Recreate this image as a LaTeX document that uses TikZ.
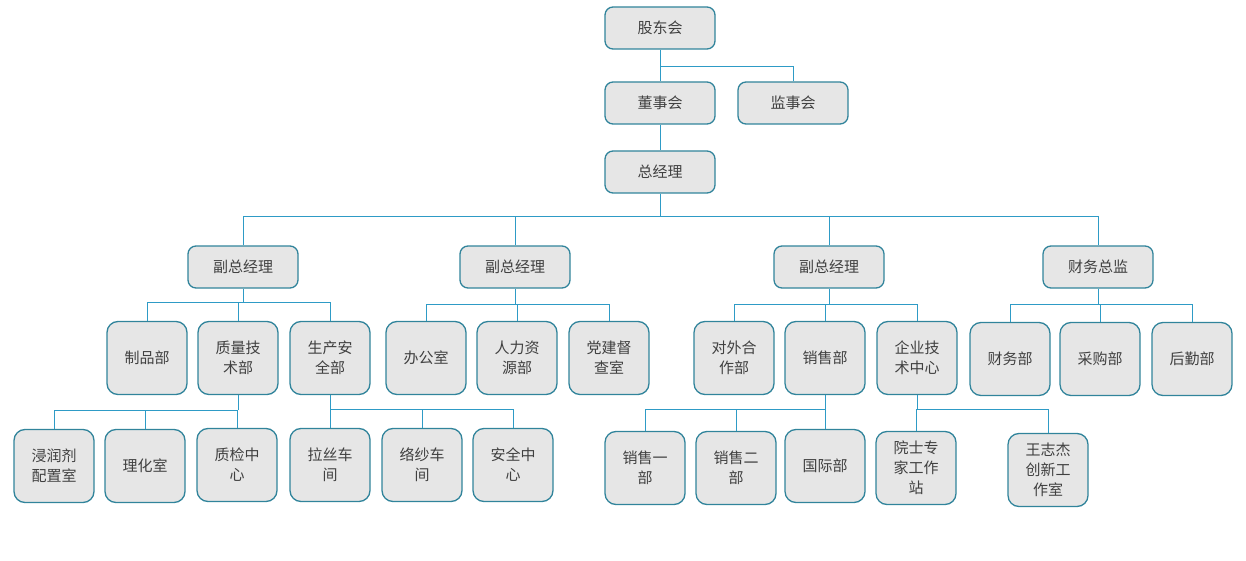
\documentclass[tikz,border=0pt]{standalone}
\usepackage{fontspec}
\newfontfamily\cjk{Noto Sans CJK SC}
\definecolor{boxfill}{HTML}{E6E6E6}
\definecolor{boxline}{HTML}{31849B}
\definecolor{linkline}{HTML}{2E9BC6}
\definecolor{txtgray}{HTML}{404040}
\tikzset{
  orgbox/.style={draw=boxline, fill=boxfill, line width=1.3pt, text=txtgray,
    font=\cjk\fontsize{15}{20}\selectfont, align=center, inner sep=0pt},
  headbox/.style={orgbox, rounded corners=8pt, minimum width=110pt, minimum height=42pt},
  deptbox/.style={orgbox, rounded corners=11pt, minimum width=80pt, minimum height=73pt},
  link/.style={draw=linkline, line width=1pt},
}
\begin{document}
\begin{tikzpicture}[x=1pt,y=-1pt]
  \useasboundingbox (0,0) rectangle (1246,561);

  % top levels
  \node[headbox] (gdh) at (660,28) {股东会};
  \node[headbox] (dsh) at (660,103) {董事会};
  \node[headbox] (jsh) at (793,103) {监事会};
  \node[headbox] (zjl) at (660,172) {总经理};

  % deputies
  \node[headbox] (fz1) at (243,267) {副总经理};
  \node[headbox] (fz2) at (515,267) {副总经理};
  \node[headbox] (fz3) at (829,267) {副总经理};
  \node[headbox] (cwzj) at (1098,267) {财务总监};

  % departments
  \node[deptbox] (zpb) at (147,358) {制品部};
  \node[deptbox] (zljs) at (238,358) {质量技\\术部};
  \node[deptbox] (scaq) at (330,358) {生产安\\全部};
  \node[deptbox] (bgs) at (426,358) {办公室};
  \node[deptbox] (rlzy) at (517,358) {人力资\\源部};
  \node[deptbox] (djdc) at (609,358) {党建督\\查室};
  \node[deptbox] (dwhz) at (734,358) {对外合\\作部};
  \node[deptbox] (xsb) at (825,358) {销售部};
  \node[deptbox] (qyjs) at (917,358) {企业技\\术中心};
  \node[deptbox] (cwb) at (1010,359) {财务部};
  \node[deptbox] (cgb) at (1100,359) {采购部};
  \node[deptbox] (hqb) at (1192,359) {后勤部};

  % sub units
  \node[deptbox] (jrj) at (54,466) {浸润剂\\配置室};
  \node[deptbox] (lhs) at (145,466) {理化室};
  \node[deptbox] (zjzx) at (237,465) {质检中\\心};
  \node[deptbox] (lscj) at (330,465) {拉丝车\\间};
  \node[deptbox] (lscj2) at (422,465) {络纱车\\间};
  \node[deptbox] (aqzx) at (513,465) {安全中\\心};
  \node[deptbox] (xs1) at (645,468) {销售一\\部};
  \node[deptbox] (xs2) at (736,468) {销售二\\部};
  \node[deptbox] (gjb) at (825,466) {国际部};
  \node[deptbox] (yszj) at (916,468) {院士专\\家工作\\站};
  \node[deptbox] (wzj) at (1048,470) {王志杰\\创新工\\作室};

  % connectors
  \coordinate (b1) at (660,67);
  \draw[link] (gdh) -- (dsh);
  \draw[link] (jsh.north) |- (b1);
  \draw[link] (dsh) -- (zjl);

  \coordinate (b2) at (660,217);
  \draw[link] (zjl.south) -- (b2);
  \foreach \n in {fz1,fz2,fz3,cwzj}
    \draw[link] (\n.north) |- (b2);

  \path (fz1.south) ++(0,14) coordinate (b3a);
  \path (fz2.south) ++(0,16) coordinate (b3b);
  \path (fz3.south) ++(0,16) coordinate (b3c);
  \path (cwzj.south) ++(0,16) coordinate (b3d);
  \draw[link] (fz1.south) -- (b3a);
  \draw[link] (fz2.south) -- (b3b);
  \draw[link] (fz3.south) -- (b3c);
  \draw[link] (cwzj.south) -- (b3d);
  \foreach \n in {zpb,zljs,scaq}
    \draw[link] (\n.north) |- (b3a);
  \foreach \n in {bgs,rlzy,djdc}
    \draw[link] (\n.north) |- (b3b);
  \foreach \n in {dwhz,xsb,qyjs}
    \draw[link] (\n.north) |- (b3c);
  \foreach \n in {cwb,cgb,hqb}
    \draw[link] (\n.north) |- (b3d);

  \path (zljs.south) ++(0,15) coordinate (b4a);
  \path (scaq.south) ++(0,14) coordinate (b4b);
  \path (xsb.south) ++(0,14) coordinate (b4c);
  \path (qyjs.south) ++(0,14) coordinate (b4d);
  \draw[link] (zljs.south) -- (b4a);
  \draw[link] (scaq.south) -- (b4b);
  \draw[link] (xsb.south) -- (b4c);
  \draw[link] (qyjs.south) -- (b4d);
  \foreach \n in {jrj,lhs,zjzx}
    \draw[link] (\n.north) |- (b4a);
  \foreach \n in {lscj,lscj2,aqzx}
    \draw[link] (\n.north) |- (b4b);
  \foreach \n in {xs1,xs2,gjb}
    \draw[link] (\n.north) |- (b4c);
  \foreach \n in {yszj,wzj}
    \draw[link] (\n.north) |- (b4d);
\end{tikzpicture}
\end{document}
